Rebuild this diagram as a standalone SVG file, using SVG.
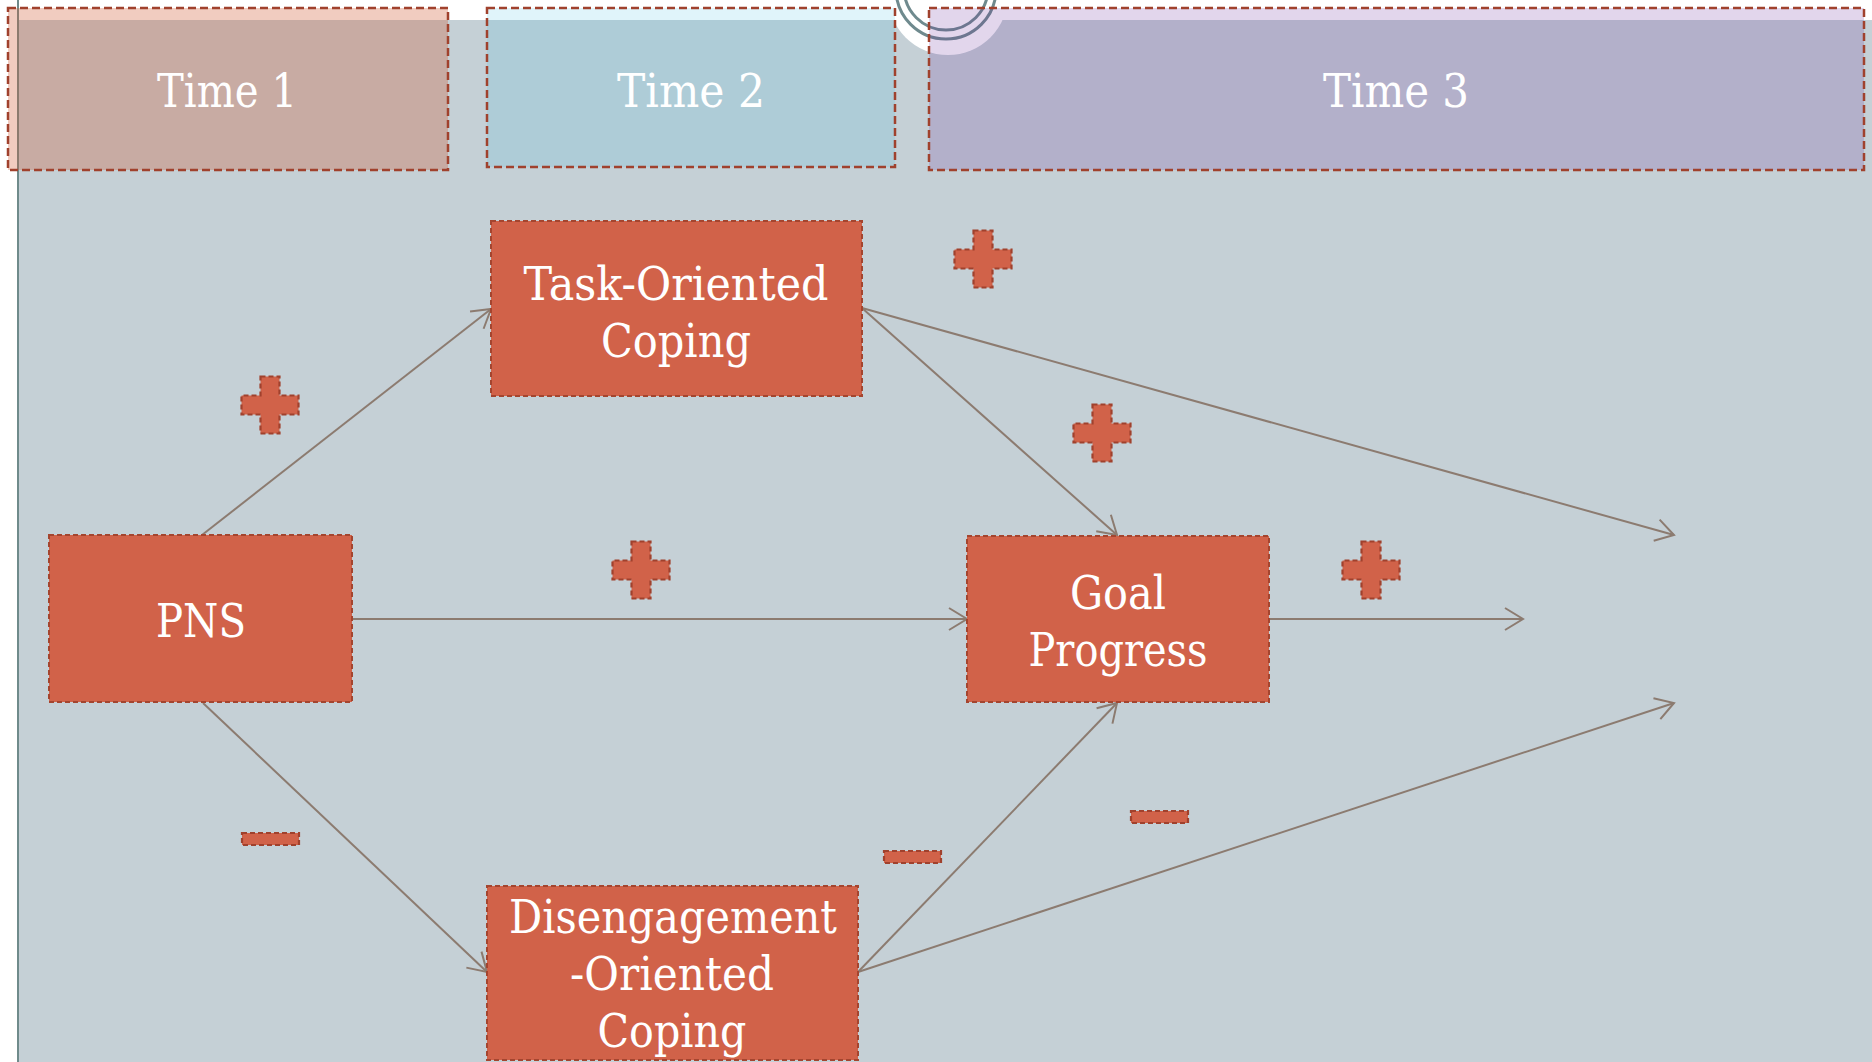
<svg xmlns="http://www.w3.org/2000/svg" width="1872" height="1062" viewBox="0 0 1872 1062">
  <defs>
    <style>
      .hdr { stroke: #a0412d; stroke-width: 2.5; stroke-dasharray: 8 4; }
      .node { fill: #d16249; stroke: #a4452f; stroke-width: 2; stroke-dasharray: 5 3; }
      .sign { fill: #d16249; stroke: #a0412d; stroke-width: 2.2; stroke-dasharray: 5 3; }
      .lbl { font-family: "DejaVu Serif", "Liberation Serif", serif; fill: #ffffff; text-anchor: middle; }
      .hlbl { font-size: 46px; }
      .nlbl { font-size: 46px; }
      .edge { fill: none; stroke: #8c7b70; stroke-width: 2; marker-end: url(#arrow); }
    </style>
    <marker id="arrow" viewBox="-20 -13 22 26" markerUnits="userSpaceOnUse" markerWidth="22" markerHeight="26" refX="0" refY="0" orient="auto">
      <path d="M-18,-11 L0,0 L-18,11" fill="none" stroke="#8c7b70" stroke-width="2"/>
    </marker>
    <path id="plus" d="M-9.5,-28.5 H9.5 V-9.5 H28.5 V9.5 H9.5 V28.5 H-9.5 V9.5 H-28.5 V-9.5 H-9.5 Z"/>
  </defs>

  <!-- page background -->
  <rect x="0" y="0" width="1872" height="1062" fill="#ffffff"/>
  <rect x="18" y="20" width="1854" height="1042" fill="#c5d0d6"/>
  <line x1="18" y1="0" x2="18" y2="1062" stroke="#6f8b8b" stroke-width="2"/>

  <!-- top ring ornament -->
  <circle cx="948" cy="-5" r="60" fill="#ffffff"/>
  <circle cx="946" cy="-11" r="50" fill="none" stroke="#6f8a8e" stroke-width="3"/>
  <circle cx="946" cy="-12" r="42" fill="none" stroke="#6f8a8e" stroke-width="3"/>

  <!-- time period headers -->
  <g id="time1">
    <rect class="hdr" x="8" y="8" width="440" height="162" fill="#d0562f" fill-opacity="0.3"/>
    <text class="lbl hlbl" x="227" y="107" textLength="140" lengthAdjust="spacingAndGlyphs">Time 1</text>
  </g>
  <g id="time2">
    <rect class="hdr" x="487" y="8" width="408" height="159" fill="#30b6de" fill-opacity="0.15"/>
    <text class="lbl hlbl" x="691" y="107" textLength="148" lengthAdjust="spacingAndGlyphs">Time 2</text>
  </g>
  <g id="time3">
    <rect class="hdr" x="929" y="8" width="935" height="162" fill="#66279b" fill-opacity="0.19"/>
    <text class="lbl hlbl" x="1396" y="107" textLength="146" lengthAdjust="spacingAndGlyphs">Time 3</text>
  </g>

  <!-- connectors -->
  <g id="connectors">
    <line class="edge" x1="202" y1="535" x2="491" y2="309"/>
    <line class="edge" x1="352" y1="619" x2="967" y2="619"/>
    <line class="edge" x1="203" y1="703" x2="487" y2="972"/>
    <line class="edge" x1="862" y1="308" x2="1117" y2="535"/>
    <line class="edge" x1="862" y1="308" x2="1674" y2="535"/>
    <line class="edge" x1="1269" y1="619" x2="1523" y2="619"/>
    <line class="edge" x1="858" y1="972" x2="1117" y2="703"/>
    <line class="edge" x1="858" y1="972" x2="1674" y2="703"/>
  </g>

  <!-- nodes -->
  <g id="task-coping">
    <rect class="node" x="491" y="221" width="371" height="175"/>
    <text class="lbl nlbl" x="676" y="300" textLength="305" lengthAdjust="spacingAndGlyphs">Task-Oriented</text>
    <text class="lbl nlbl" x="676" y="357" textLength="150" lengthAdjust="spacingAndGlyphs">Coping</text>
  </g>
  <g id="pns">
    <rect class="node" x="49" y="535" width="303" height="167"/>
    <text class="lbl nlbl" x="201" y="637" textLength="90" lengthAdjust="spacingAndGlyphs">PNS</text>
  </g>
  <g id="goal-progress">
    <rect class="node" x="967" y="536" width="302" height="166"/>
    <text class="lbl nlbl" x="1118" y="609" textLength="96" lengthAdjust="spacingAndGlyphs">Goal</text>
    <text class="lbl nlbl" x="1118" y="666" textLength="179" lengthAdjust="spacingAndGlyphs">Progress</text>
  </g>
  <g id="disengagement-coping">
    <rect class="node" x="487" y="886" width="371" height="174"/>
    <text class="lbl nlbl" x="673" y="933" textLength="328" lengthAdjust="spacingAndGlyphs">Disengagement</text>
    <text class="lbl nlbl" x="672" y="990" textLength="204" lengthAdjust="spacingAndGlyphs">-Oriented</text>
    <text class="lbl nlbl" x="672" y="1047" textLength="149" lengthAdjust="spacingAndGlyphs">Coping</text>
  </g>

  <!-- path signs -->
  <g id="signs">
    <use href="#plus" class="sign" x="270" y="405"/>
    <use href="#plus" class="sign" x="641" y="570"/>
    <use href="#plus" class="sign" x="983" y="259"/>
    <use href="#plus" class="sign" x="1102" y="433"/>
    <use href="#plus" class="sign" x="1371" y="570"/>
    <rect class="sign" x="242" y="833" width="57" height="12"/>
    <rect class="sign" x="884" y="851" width="57" height="12"/>
    <rect class="sign" x="1131" y="811" width="57" height="12"/>
  </g>
</svg>
